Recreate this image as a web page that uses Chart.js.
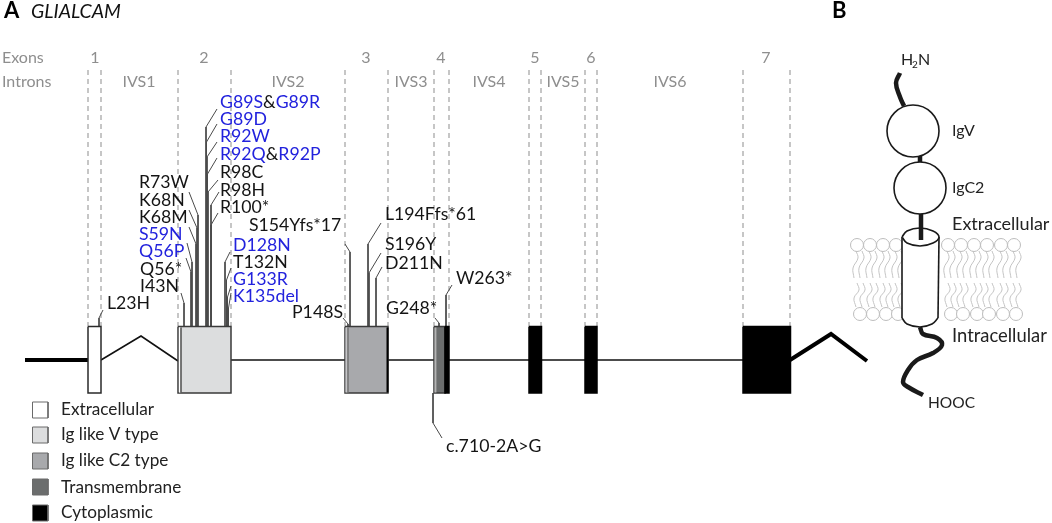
<!DOCTYPE html>
<html lang="en">
<head>
<meta charset="UTF-8">
<title>GLIALCAM</title>
<script src="https://cdn.jsdelivr.net/npm/chart.js@4/dist/chart.umd.js"></script>
<style>
html, body { margin: 0; padding: 0; background: #fff; }
canvas { display: block; }
</style>
</head>
<body>
<canvas id="chart" width="1052" height="523"></canvas>
<script>
const BLUE = '#2222dd', INK = '#141414', GREY = '#8e8e8e', DARK = '#4a4a4a'

// exon guide lines
const guideXs = [88, 101, 178, 231, 345, 388, 434, 449, 529, 541, 585, 597, 743, 790]

// [left, right, fill]
const exons = [
    [88, 101, '#ffffff', '#2a2a2a'],
    [178, 231, '#dcddde', '#3a3a3a'],
    [345, 388, '#a8a9ac', '#3a3a3a'],
    [434, 445, '#6b6d6d', '#3a3a3a'],
    [445, 449, '#000000', '#000000'],
    [529, 541.5, '#000000', '#000000'],
    [585, 597, '#000000', '#000000'],
    [743, 790.5, '#000000', '#000000']
]
const exonStrips = [
    [179.7, '#ffffff', 1.6], [181, '#555555', 0.8], [346.4, '#c6c6c8', 2], [348, '#777777', 0.8],
    [387.5, '#000000', 2], [435.4, '#b4b4b4', 2]
]

const thinLines = [
    [[231, 360], [345, 360]],
    [[388, 360], [434, 360]],
    [[449, 360], [529, 360]],
    [[541, 360], [585, 360]],
    [[597, 360], [743, 360]],
    [[101, 360], [141, 336], [178, 361]]
]
const thickLines = [
    [[25, 360], [88, 360]],
    [[790, 360], [831, 334], [867, 361]]
]

const callouts = [
    [[217, 109], [206, 127], [206, 327]],
    [[217, 124], [206.5, 142], [206.5, 327]],
    [[217, 142], [207, 157], [207, 327]],
    [[217, 158], [207.5, 174], [207.5, 327]],
    [[218, 180], [208, 192], [208, 327]],
    [[219, 192], [211, 205], [211, 327]],
    [[218, 213], [211, 225], [211, 327]],
    [[189, 192], [198, 215], [198, 327]],
    [[189, 210], [197, 228], [197, 327]],
    [[189, 227], [196, 244], [196, 327]],
    [[187, 243], [192, 262], [192, 327]],
    [[186, 258], [191, 272], [191, 327]],
    [[181, 293], [184, 303], [184, 327]],
    [[230, 252], [225, 262], [225, 327]],
    [[231, 268], [226.5, 280], [226.5, 327]],
    [[231, 286], [227.5, 297], [227.5, 327]],
    [[231, 293], [228.5, 308], [228.5, 327]],
    [[103, 310], [99, 318], [99, 326]],
    [[345, 244], [350, 252], [350, 326]],
    [[343, 318], [348, 324], [348, 326]],
    [[381, 223], [368, 244], [368, 326]],
    [[381, 253], [369, 273], [369, 326]],
    [[382, 267], [376, 278], [376, 326]],
    [[435, 318], [439, 323], [439, 326]],
    [[452, 285], [446, 295], [446, 326]],
    [[433, 393], [433, 423], [442, 438]]
]

const legendFills = ['#ffffff', '#dcddde', '#a8a9ac', '#6b6d6d', '#000000']
const legendTops = [402, 427, 453, 479, 505]
const legendNames = ['Extracellular', 'Ig like V type', 'Ig like C2 type', 'Transmembrane', 'Cytoplasmic']
const legendMids = [409, 434, 460, 487, 512]

// membrane
const upperHeads = [857, 870, 883, 896, 948, 961, 974, 987, 1001, 1014]
const lowerHeads = [860, 873, 886, 898, 951, 963, 977, 989, 1003, 1016]
const upperTail = [[0, 251], [2, 258], [-3, 268], [-2, 278]]
const lowerTail = [[-3, 307], [-5, 298], [0, 290], [-2, 283]]

const domains = [[913, 131, 26], [920, 188, 26]]
const nTail = [[900, 73], [896, 83], [900, 97], [904, 106]]
const linkers = [[[920, 156], [920, 163]], [[921, 214], [921, 240]]]
const cTail = [[920, 327], [923, 334], [937, 338], [942, 345], [933, 353], [917, 360], [908, 370], [903, 382], [908, 387], [923, 395]]
const cylinderTop = [[902, 237], [907, 231], [920, 228], [933, 231], [939, 237], [933, 243], [920, 246], [907, 243], [902, 237]]
const cylinderBottom = [[902, 318], [907, 324], [920, 327], [932, 324], [938, 318]]

// text runs: x, y, [[text, colour], ...]
const mutationLabels = [
    [220, 102, [['G89S', BLUE], ['&', INK], ['G89R', BLUE]]],
    [220, 119, [['G89D', BLUE]]],
    [220, 136, [['R92W', BLUE]]],
    [220, 154, [['R92Q', BLUE], ['&', INK], ['R92P', BLUE]]],
    [220, 172, [['R98C', INK]]],
    [220, 190, [['R98H', INK]]],
    [220, 207, [['R100*', INK]]],
    [139, 182, [['R73W', INK]]],
    [139, 200, [['K68N', INK]]],
    [139, 217, [['K68M', INK]]],
    [139, 234, [['S59N', BLUE]]],
    [139, 251, [['Q56P', BLUE]]],
    [140, 269, [['Q56*', INK]]],
    [140, 286, [['I43N', INK]]],
    [107, 303, [['L23H', INK]]],
    [249, 225, [['S154Yfs*17', INK]]],
    [233, 245, [['D128N', BLUE]]],
    [233, 262, [['T132N', INK]]],
    [233, 279, [['G133R', BLUE]]],
    [233, 296, [['K135del', BLUE]]],
    [292, 312, [['P148S', INK]]],
    [385, 214, [['L194Ffs*61', INK]]],
    [385, 244, [['S196Y', INK]]],
    [385, 263, [['D211N', INK]]],
    [386, 308, [['G248*', INK]]],
    [456, 278, [['W263*', INK]]],
    [446, 446, [['c.710-2A>G', INK]]]
]
const exonNumbers = [['1', 95], ['2', 204], ['3', 366], ['4', 441], ['5', 535], ['6', 591], ['7', 766]]
const intronNames = [['IVS1', 139], ['IVS2', 288], ['IVS3', 411], ['IVS4', 489], ['IVS5', 563], ['IVS6', 670]]
const proteinLabels = [
    ['IgV', 952, 131, 16], ['IgC2', 952, 188, 16], ['Extracellular', 952, 224, 18],
    ['Intracellular', 952, 336, 18.4], ['HOOC', 928, 403, 15.5]
]

const pts = list => list.map(p => ({x: p[0], y: p[1]}))
const rect = (x0, x1, y0, y1) => pts([[x0, y0], [x1, y0], [x1, y1], [x0, y1], [x0, y0]])

function line(data, color, width, extra) {
    return Object.assign({data: data, showLine: true, borderColor: color, borderWidth: width,
        pointRadius: 0, fill: false, tension: 0, borderCapStyle: 'butt'}, extra || {})
}
function box(data, fillColor, edge, width) {
    return line(data, edge, width, {fill: 'shape', backgroundColor: fillColor, borderJoinStyle: 'miter'})
}

// painter's order, reversed at the end because chart.js draws the first dataset last
const sets = []

upperHeads.forEach(h => {
    [-1, 5].forEach(o => sets.push(line(pts(upperTail.map(p => [h + o + p[0], p[1]])), '#c4c4c4', 1, {tension: 0.4})))
})
lowerHeads.forEach(h => {
    [-1, 5].forEach(o => sets.push(line(pts(lowerTail.map(p => [h + o + p[0], p[1]])), '#c4c4c4', 1, {tension: 0.4})))
})
const headStyle = {showLine: false, pointRadius: 6.5, pointBackgroundColor: '#ffffff', pointBorderColor: '#bdbdbd', pointBorderWidth: 1}
sets.push(Object.assign({data: upperHeads.map(h => ({x: h, y: 245}))}, headStyle))
sets.push(Object.assign({data: lowerHeads.map(h => ({x: h, y: 314}))}, headStyle))

guideXs.forEach(x => sets.push(line(pts([[x, 70], [x, 326]]), '#b4b4b4', 1.5, {borderDash: [5, 4]})))

thinLines.forEach(l => sets.push(line(pts(l), '#111111', 1.6)))
thickLines.forEach(l => sets.push(line(pts(l), '#000000', 4, {borderJoinStyle: 'miter'})))
callouts.forEach(l => sets.push(line(pts(l), DARK, 1)))

exons.forEach(e => sets.push(box(rect(e[0], e[1], 326.5, 393), e[2], e[3], 1.5)))
exonStrips.forEach(s => sets.push(line(pts([[s[0], 327.5], [s[0], 392.5]]), s[1], s[2])))

legendFills.forEach((f, i) => sets.push(box(rect(32.5, 48, legendTops[i], legendTops[i] + 16), f, '#6a6a6a', 1)))

// protein cartoon
sets.push(line(pts(nTail), '#1a1a1a', 4.5, {tension: 0.4}))
linkers.slice(0, 1).forEach(l => sets.push(line(pts(l), '#1a1a1a', 4.5)))
sets.push(line(pts(cTail), '#1a1a1a', 4.5, {tension: 0.4}))
sets.push(box(pts([[902, 237], [939, 237], [938, 318], [902, 318], [902, 237]]), '#ffffff', '#ffffff', 0))
sets.push(line(pts(cylinderBottom), '#1a1a1a', 1.6, {tension: 0.4, fill: 'shape', backgroundColor: '#ffffff'}))
sets.push(line(pts([[902, 237], [902, 318]]), '#1a1a1a', 1.6))
sets.push(line(pts([[939, 237], [938, 318]]), '#1a1a1a', 1.6))
sets.push(line(pts(cylinderTop), '#1a1a1a', 1.6, {tension: 0.4, fill: 'shape', backgroundColor: '#ffffff'}))
sets.push(line(pts(linkers[1]), '#1a1a1a', 4.5))
domains.forEach(d => sets.push({data: [{x: d[0], y: d[1]}], showLine: false, pointRadius: d[2],
    pointBackgroundColor: '#ffffff', pointBorderColor: '#1a1a1a', pointBorderWidth: 1.6}))

const FONT = 'Lato, sans-serif'
const textPlugin = {
    id: 'textPlugin',
    afterDatasetsDraw(chart) {
        const c = chart.ctx, sx = chart.scales.x, sy = chart.scales.y
        function put(text, x, y, font, color, align) {
            c.font = font
            c.fillStyle = color
            c.textAlign = align || 'left'
            c.textBaseline = 'middle'
            c.fillText(text, sx.getPixelForValue(x), sy.getPixelForValue(y))
        }
        c.save()
        put('A', 4, 11, 'bold 22px ' + FONT, '#000000')
        put('GLIALCAM', 31, 12, 'italic 19.5px ' + FONT, '#111111')
        put('B', 832, 11, 'bold 22px ' + FONT, '#000000')
        put('Exons', 2, 58, '16px ' + FONT, GREY)
        put('Introns', 2, 82, '16px ' + FONT, GREY)
        exonNumbers.forEach(n => put(n[0], n[1], 58, '16px ' + FONT, GREY, 'center'))
        intronNames.forEach(n => put(n[0], n[1], 82, '16px ' + FONT, GREY, 'center'))
        mutationLabels.forEach(l => {
            let x = l[0]
            l[2].forEach(run => {
                put(run[0], x, l[1], '17.7px ' + FONT, run[1])
                x += c.measureText(run[0]).width
            })
        })
        legendNames.forEach((n, i) => put(n, 61, legendMids[i], '17.2px ' + FONT, '#222222'))
        proteinLabels.forEach(p => put(p[0], p[1], p[2], p[3] + 'px ' + FONT, '#222222'))
        put('H', 901, 60, '16px ' + FONT, '#222222')
        put('2', 912, 65, '10px ' + FONT, '#222222')
        put('N', 918, 60, '16px ' + FONT, '#222222')
        c.restore()
    }
}

new Chart(document.getElementById('chart').getContext('2d'), {
    type: 'scatter',
    data: {datasets: sets.reverse()},
    plugins: [textPlugin],
    options: {
        responsive: false,
        animation: false,
        layout: {padding: 0, autoPadding: false},
        plugins: {legend: {display: false}, tooltip: {enabled: false}},
        scales: {
            x: {type: 'linear', display: false, min: 0, max: 1052},
            y: {type: 'linear', display: false, min: 0, max: 523, reverse: true}
        }
    }
})
</script>
</body>
</html>
